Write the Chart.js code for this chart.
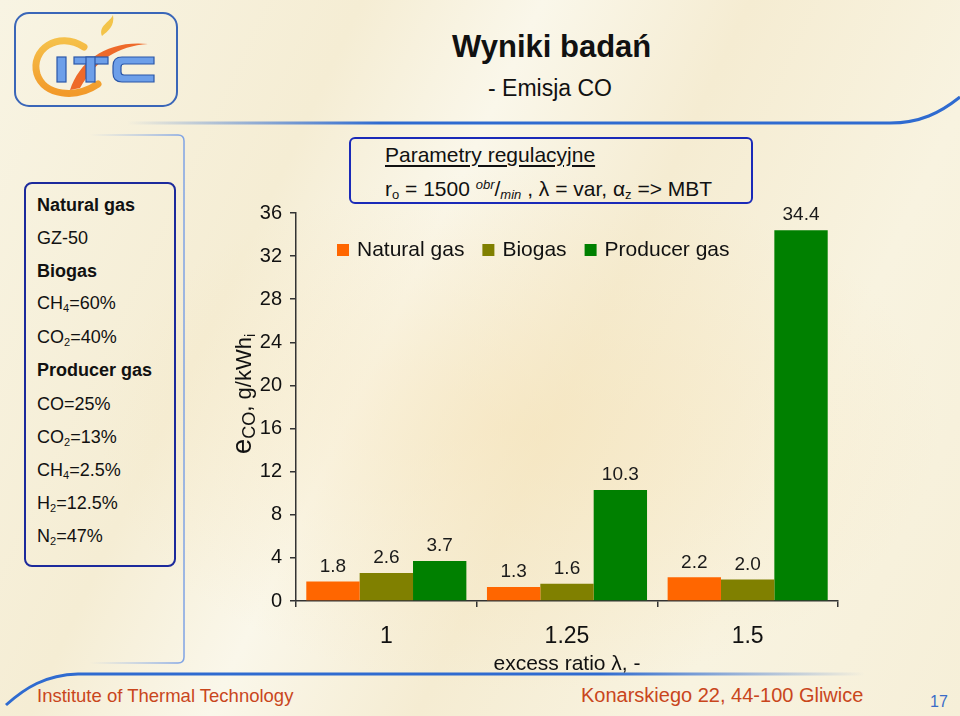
<!DOCTYPE html>
<html>
<head>
<meta charset="utf-8">
<title>Wyniki badań - Emisja CO</title>
<script src="https://cdn.jsdelivr.net/npm/chart.js@4.4.1/dist/chart.umd.min.js"></script>
<style>
  html, body { margin: 0; padding: 0; }
  body {
    width: 960px; height: 716px; position: relative; overflow: hidden;
    font-family: "Liberation Sans", Arial, sans-serif; color: #111;
    background:
      radial-gradient(ellipse 420px 260px at 520px 430px, rgba(246, 226, 182, 0.55), rgba(246, 226, 182, 0) 100%),
      linear-gradient(115deg, #f8f4e3 0%, #f5edd4 28%, #faf7ea 42%, #f5ecd2 58%, #f8f3e0 78%, #f6efd8 100%);
  }
  .abs { position: absolute; }
  #deco { position: absolute; left: 0; top: 0; }
  #title { left: 452px; top: 29px; font-size: 31px; font-weight: bold; }
  #subtitle { left: 488px; top: 75px; font-size: 23px; }
  #gasPanel {
    left: 24px; top: 182px; width: 148px; height: 381px;
    border: 2px solid #1c2a9c; border-radius: 8px;
  }
  #gasPanel div { position: absolute; left: 11px; font-size: 18px; line-height: 20px; white-space: nowrap; }
  #gasPanel b { font-weight: bold; }
  sub { font-size: 11px; vertical-align: -3px; line-height: 0; }
  sup { font-size: 13px; vertical-align: 7px; line-height: 0; }
  #params {
    left: 349px; top: 137px; width: 400px; height: 63px;
    border: 2px solid #1a2ab8; border-radius: 6px;
  }
  #params div { position: absolute; left: 34px; font-size: 21px; white-space: nowrap; }
  #params .head { top: 4px; text-decoration: underline; text-underline-offset: 3px; }
  #params .line { top: 38px; }
  #params .line sub { font-size: 13px; }
  .foot { font-size: 18.5px; color: #c9461c; top: 685px; white-space: nowrap; }
  #address { left: 581px; top: 684px; font-size: 20px; }
  #page { left: 930px; top: 693px; font-size: 16px; color: #3a6cc8; }
  #chart { position: absolute; left: 0; top: 0; }
</style>
</head>
<body>

<svg id="deco" width="960" height="716">
  <defs>
    <linearGradient id="gTop" gradientUnits="userSpaceOnUse" x1="127" y1="0" x2="380" y2="0">
      <stop offset="0" stop-color="#2f6bd0" stop-opacity="0"/>
      <stop offset="1" stop-color="#2f6bd0" stop-opacity="1"/>
    </linearGradient>
    <linearGradient id="gBot" gradientUnits="userSpaceOnUse" x1="600" y1="0" x2="865" y2="0">
      <stop offset="0" stop-color="#2f6bd0" stop-opacity="1"/>
      <stop offset="1" stop-color="#2f6bd0" stop-opacity="0"/>
    </linearGradient>
    <linearGradient id="gFrame" gradientUnits="userSpaceOnUse" x1="90" y1="0" x2="184" y2="0">
      <stop offset="0" stop-color="#8fb0e8" stop-opacity="0"/>
      <stop offset="1" stop-color="#7fa3e4" stop-opacity="1"/>
    </linearGradient>
    <linearGradient id="gRing" x1="0" y1="0" x2="0" y2="1">
      <stop offset="0" stop-color="#f5c04a"/>
      <stop offset="1" stop-color="#f29a2a"/>
    </linearGradient>
  </defs>
  <!-- logo -->
  <rect x="15" y="13" width="162" height="93" rx="14" fill="none" stroke="#3a66b8" stroke-width="2"/>
  <path d="M84 47 C 58 30, 30 50, 37 74 C 44 96, 76 99, 98 84" fill="none" stroke="url(#gRing)" stroke-width="7" stroke-linecap="round"/>
  <path d="M70 90 C 80 60, 108 40, 148 44 C 118 46, 96 60, 80 88 Z" fill="#ee6a2a"/>
  <path d="M102 36 C 98 26, 110 22, 113 15 C 115 26, 108 31, 102 36 Z" fill="#f3c44a"/>
  <g fill="#6d9fe9" stroke="#2b57a8" stroke-width="1.2">
    <rect x="57" y="57" width="9" height="25"/>
    <rect x="74" y="57" width="34" height="7"/>
    <rect x="86" y="57" width="9" height="25"/>
    <path d="M154 57 H122 Q113 57 113 66 V73 Q113 82 122 82 H154 V75 H124 Q121 75 121 72 V67 Q121 64 124 64 H154 Z"/>
  </g>
  <!-- slide lines -->
  <path d="M127 123 L 890 123 C 920 123, 940 113, 960 97" fill="none" stroke="url(#gTop)" stroke-width="3"/>
  <path d="M6 705 C 25 688, 45 675, 78 674 L 865 674" fill="none" stroke="url(#gBot)" stroke-width="3"/>
  <path d="M90 135 H178 Q184 135 184 141 V657 Q184 663 178 663 H90" fill="none" stroke="url(#gFrame)" stroke-width="1.5"/>
</svg>

<div class="abs" id="title">Wyniki badań</div>
<div class="abs" id="subtitle">- Emisja CO</div>

<div class="abs" id="gasPanel">
  <div style="top: 11px"><b>Natural gas</b></div>
  <div style="top: 44px">GZ-50</div>
  <div style="top: 77px"><b>Biogas</b></div>
  <div style="top: 109px">CH<sub>4</sub>=60%</div>
  <div style="top: 143px">CO<sub>2</sub>=40%</div>
  <div style="top: 176px"><b>Producer gas</b></div>
  <div style="top: 210px">CO=25%</div>
  <div style="top: 243px">CO<sub>2</sub>=13%</div>
  <div style="top: 276px">CH<sub>4</sub>=2.5%</div>
  <div style="top: 309px">H<sub>2</sub>=12.5%</div>
  <div style="top: 342px">N<sub>2</sub>=47%</div>
</div>

<div class="abs" id="params">
  <div class="head">Parametry regulacyjne</div>
  <div class="line">r<sub>o</sub> = 1500 <sup><i>obr</i></sup>/<sub><i>min</i></sub> , λ = var, α<sub>z</sub> =&gt; MBT</div>
</div>

<div class="abs foot" style="left: 37px">Institute of Thermal Technology</div>
<div class="abs foot" id="address">Konarskiego 22, 44-100 Gliwice</div>
<div class="abs" id="page">17</div>

<canvas id="chart" width="960" height="716"></canvas>

<script>
// data
const categories = ['1', '1.25', '1.5'];          // excess ratio lambda
const naturalGas = [1.8, 1.3, 2.2];
const biogas = [2.6, 1.6, 2.0];
const producerGas = [3.7, 10.3, 34.4];
const yTicks = [0, 4, 8, 12, 16, 20, 24, 28, 32, 36];

const FONT = '"Liberation Sans", Arial, sans-serif';
Chart.defaults.font.family = FONT;
Chart.defaults.color = '#111';

// numbers above each bar
const valueLabels = {
  id: 'valueLabels',
  afterDatasetsDraw(chart) {
    const ctx = chart.ctx;
    ctx.save();
    ctx.font = '19px ' + FONT;
    ctx.fillStyle = '#1a1a1a';
    ctx.textAlign = 'center';
    ctx.textBaseline = 'middle';
    chart.data.datasets.forEach((ds, i) => {
      chart.getDatasetMeta(i).data.forEach((bar, j) => {
        ctx.fillText(ds.data[j].toFixed(1), bar.x, bar.y - 15);
      });
    });
    ctx.restore();
  }
};

// legend sits inside the plot, under the parameter box
const slideLegend = {
  id: 'slideLegend',
  afterDraw(chart) {
    const { ctx, chartArea } = chart;
    ctx.save();
    ctx.font = '21px ' + FONT;
    ctx.textBaseline = 'middle';
    let x = chartArea.left + 41;
    const y = chartArea.top + 37;
    chart.data.datasets.forEach(ds => {
      ctx.fillStyle = ds.backgroundColor;
      ctx.fillRect(x, y - 6, 12, 12);
      x += 20;
      ctx.fillStyle = '#111';
      ctx.fillText(ds.label, x, y);
      x += ctx.measureText(ds.label).width + 18;
    });
    ctx.restore();
  }
};

// y title with subscripts: e_CO, g/kWh_i
const yTitle = {
  id: 'yTitle',
  afterDraw(chart) {
    const ctx = chart.ctx;
    const parts = [['e', 28, 0], ['CO', 18, 4], [', g/kWh', 22, 0], ['i', 15, 4]];
    ctx.save();
    let total = 0;
    parts.forEach(p => { ctx.font = p[1] + 'px ' + FONT; total += ctx.measureText(p[0]).width; });
    ctx.translate(251, 394);
    ctx.rotate(-Math.PI / 2);
    ctx.fillStyle = '#111';
    ctx.textBaseline = 'alphabetic';
    let x = -total / 2;
    parts.forEach(p => {
      ctx.font = p[1] + 'px ' + FONT;
      ctx.fillText(p[0], x, p[2]);
      x += ctx.measureText(p[0]).width;
    });
    ctx.restore();
  }
};

new Chart(document.getElementById('chart'), {
  type: 'bar',
  data: {
    labels: categories,
    datasets: [
      { label: 'Natural gas', data: naturalGas, backgroundColor: '#ff6600' },
      { label: 'Biogas', data: biogas, backgroundColor: '#808000' },
      { label: 'Producer gas', data: producerGas, backgroundColor: '#008000' }
    ]
  },
  options: {
    responsive: false,
    animation: false,
    devicePixelRatio: 1,
    layout: { padding: { left: 236, right: 122, top: 213, bottom: 35 } },
    datasets: { bar: { categoryPercentage: 0.886, barPercentage: 1, borderWidth: 0 } },
    plugins: { legend: { display: false }, tooltip: { enabled: false } },
    scales: {
      x: {
        grid: { offset: true, drawOnChartArea: false, tickLength: 6, color: '#333', lineWidth: 1.5 },
        border: { color: '#333', width: 1.5 },
        ticks: { font: { size: 23 }, color: '#111', padding: 16 },
        title: { display: true, text: 'excess ratio λ, -', font: { size: 21 }, color: '#111', padding: { top: 0, bottom: 4 } },
        afterFit(scale) { scale.height = 80; }
      },
      y: {
        min: yTicks[0],
        max: yTicks[yTicks.length - 1],
        afterBuildTicks(scale) { scale.ticks = yTicks.map(v => ({ value: v })); },
        ticks: { font: { size: 20 }, color: '#111', padding: 8 },
        grid: { drawOnChartArea: false, tickLength: 6, color: '#333', lineWidth: 1.5 },
        border: { color: '#333', width: 1.5 },
        afterFit(scale) { scale.width = 60; }
      }
    }
  },
  plugins: [valueLabels, slideLegend, yTitle]
});
</script>
</body>
</html>
